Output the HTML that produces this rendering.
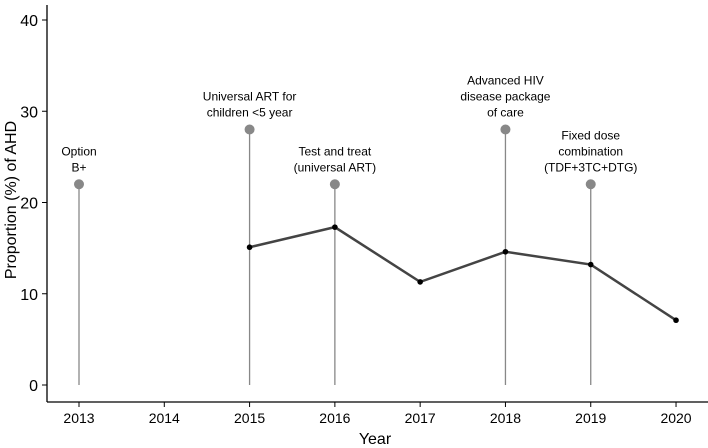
<!DOCTYPE html>
<html><head><meta charset="utf-8"><style>
body{margin:0;background:#fff}
svg{display:block;font-family:"Liberation Sans",sans-serif}
</style></head><body>
<svg id="chart" width="708" height="448" viewBox="0 0 708 448"></svg>
<script>
const years=[2013,2014,2015,2016,2017,2018,2019,2020];
const yTicks=[0,10,20,30,40];
const lineYears=[2015,2016,2017,2018,2019,2020];
const lineValues=[15.1,17.3,11.3,14.6,13.2,7.1];
const eventYears=[2013,2015,2016,2018,2019];
const eventValues=[22,28,22,28,22];
const eventLabels=[["Option","B+"],["Universal ART for","children <5 year"],["Test and treat","(universal ART)"],["Advanced HIV","disease package","of care"],["Fixed dose","combination","(TDF+3TC+DTG)"]];
const NS="http://www.w3.org/2000/svg";
const svg=document.getElementById('chart');
const x=v=>79+(v-2013)*85.29;
const y=v=>385-v*9.125;
function mk(t,a,p){const e=document.createElementNS(NS,t);for(const k in a)e.setAttribute(k,a[k]);(p||svg).appendChild(e);return e;}
// axes
let ax=mk('line',{x1:47,y1:5,x2:47,y2:402,stroke:'#000','stroke-width':1.3});


ax=mk('line',{x1:47,y1:402,x2:708,y2:402,stroke:'#000','stroke-width':1.3});


yTicks.forEach(v=>{
  mk('line',{x1:42,x2:47,y1:y(v),y2:y(v),stroke:'#000'});
  const t=mk('text',{x:38,y:y(v)+6,'text-anchor':'end','font-size':16,fill:'#000'});t.textContent=v;
  
  
});
years.forEach(v=>{
  mk('line',{x1:x(v),x2:x(v),y1:402,y2:407,stroke:'#000'});
  const t=mk('text',{x:x(v),y:423,'text-anchor':'middle','font-size':14,fill:'#000'});t.textContent=v;
  
  
});
let t=mk('text',{x:375,y:444,'text-anchor':'middle','font-size':16});t.textContent='Year';


t=mk('text',{x:0,y:0,'text-anchor':'middle','font-size':16,transform:'translate(16,200) rotate(-90)'});t.textContent='Proportion (%) of AHD';


// events
eventYears.forEach((yr,i)=>{
  const l=mk('line',{x1:x(yr),x2:x(yr),y1:y(0),y2:y(eventValues[i]),stroke:'#888','stroke-width':1.3});
  
  
  const c=mk('circle',{cx:x(yr),cy:y(eventValues[i]),r:5,fill:'#888'});
  
  
  const lines=eventLabels[i];
  const tx=mk('text',{x:x(yr),'text-anchor':'middle','font-size':12,fill:'#000'});
  
  
  lines.forEach((s,j)=>{const sp=mk('tspan',{x:x(yr),y:y(eventValues[i])-13-(lines.length-1-j)*16},tx);sp.textContent=s;});
});
// line
const pts=lineYears.map((yr,i)=>x(yr)+','+y(lineValues[i])).join(' ');
const pl=mk('polyline',{points:pts,fill:'none',stroke:'#444','stroke-width':2.5});


lineYears.forEach((yr,i)=>{
  const c=mk('circle',{cx:x(yr),cy:y(lineValues[i]),r:2.8,fill:'#000'});
  
  
});
</script>
</body></html>
